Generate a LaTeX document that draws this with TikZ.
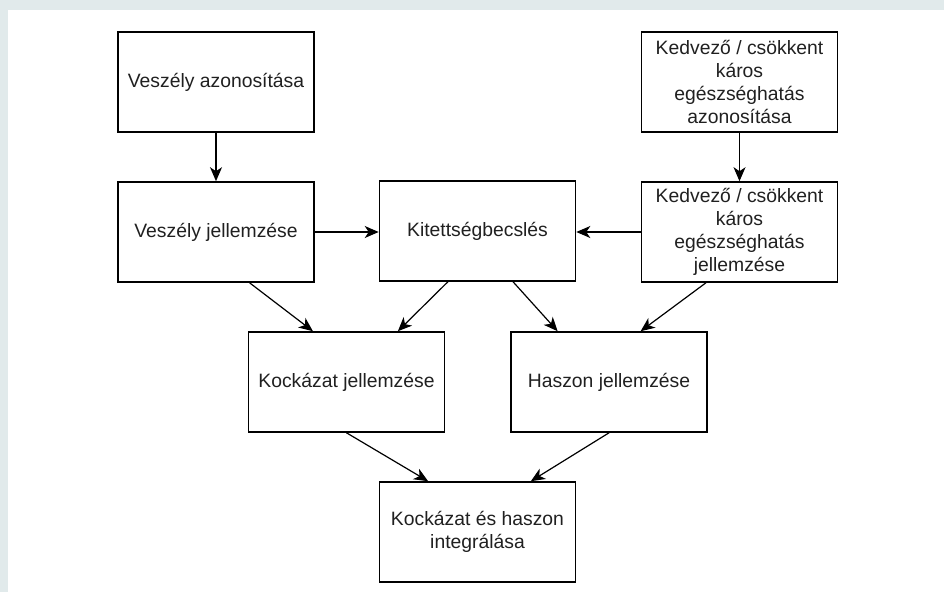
\documentclass[tikz,border=0pt]{standalone}
\usepackage{fontspec}
\setmainfont{Liberation Sans}
\usetikzlibrary{arrows.meta,calc}
\definecolor{bgc}{HTML}{E1EAEB}
\definecolor{txt}{HTML}{202020}
\tikzset{
  box/.style={draw=black, line width=1.2pt, fill=white, rectangle,
    minimum width=147pt, minimum height=75pt, align=center, text=txt,
    font=\fontsize{14.5}{17.4}\selectfont, inner sep=2pt},
  arr/.style={draw=black, line width=0.9pt, -{Stealth[length=10.5pt,width=9pt,inset=3pt]}}
}
\begin{document}
\begin{tikzpicture}[x=0.75pt,y=-0.75pt]
\useasboundingbox (0,0) rectangle (944,592);
\fill[bgc] (0,0) rectangle (944,592);
\fill[white] (8,10) rectangle (944,592);

\node[box] (A1) at (216,82) {Veszély azonosítása};
\node[box] (A2) at (216,232) {Veszély jellemzése};
\node[box] (B2) at (477.5,231) {Kitettségbecslés};
\node[box] (C1) at (739.5,82) {Kedvező / csökkent\\káros\\egészséghatás\\azonosítása};
\node[box] (C2) at (739.5,232) {Kedvező / csökkent\\káros\\egészséghatás\\jellemzése};
\node[box] (K) at (346.5,382) {Kockázat jellemzése};
\node[box] (H) at (609,382) {Haszon jellemzése};
\node[box] (I) at (477.5,532) {Kockázat és haszon\\integrálása};

\draw[arr] (A1.south) -- (A2.north);
\draw[arr] (C1.south) -- (C2.north);
\draw[arr] (A2.east) -- (B2.west |- A2.east);
\draw[arr] (C2.west) -- (B2.east |- C2.west);
\draw[arr] ($(A2.south west)!0.67!(A2.south east)$) -- ($(K.north west)!0.33!(K.north east)$);
\draw[arr] ($(B2.south west)!0.35!(B2.south east)$) -- ($(K.north west)!0.76!(K.north east)$);
\draw[arr] ($(B2.south west)!0.68!(B2.south east)$) -- ($(H.north west)!0.24!(H.north east)$);
\draw[arr] ($(C2.south west)!0.33!(C2.south east)$) -- ($(H.north west)!0.66!(H.north east)$);
\draw[arr] (K.south) -- ($(I.north west)!0.25!(I.north east)$);
\draw[arr] (H.south) -- ($(I.north west)!0.77!(I.north east)$);
\end{tikzpicture}
\end{document}
